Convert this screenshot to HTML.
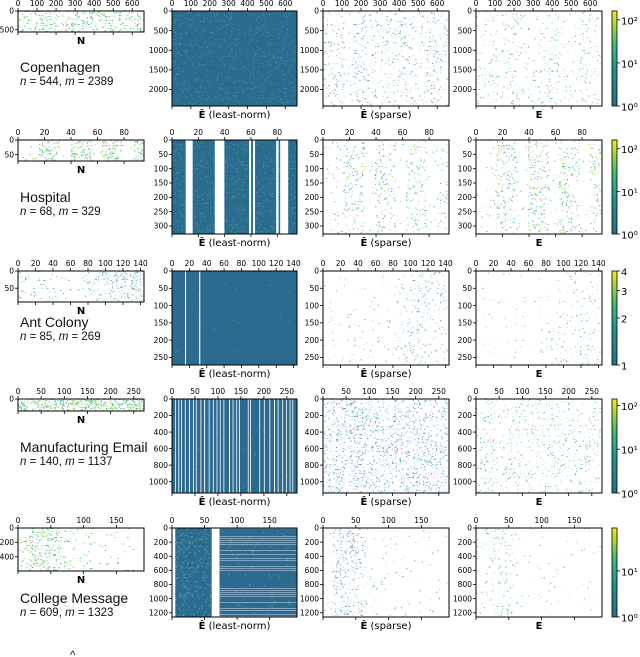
<!DOCTYPE html>
<html><head><meta charset="utf-8">
<style>
html,body{margin:0;padding:0;background:#fff;}
svg{display:block;}
.tk{font-family:"DejaVu Sans","Liberation Sans",sans-serif;font-size:7.5px;fill:#000;}
.ttl{font-family:"Liberation Sans",sans-serif;font-size:14px;fill:#111;}
.sub{font-family:"Liberation Sans",sans-serif;font-size:11.5px;fill:#111;}
.lab{font-family:"DejaVu Sans","Liberation Sans",sans-serif;font-size:10px;fill:#000;}
</style></head>
<body>
<svg id="fig" width="640" height="657" viewBox="0 0 640 657" xmlns="http://www.w3.org/2000/svg">
<defs>
<linearGradient id="cmap" x1="0" y1="1" x2="0" y2="0">
<stop offset="0" stop-color="#2c6a8f"/>
<stop offset="0.35" stop-color="#21918c"/>
<stop offset="0.65" stop-color="#3bbb75"/>
<stop offset="0.85" stop-color="#a0da39"/>
<stop offset="1" stop-color="#fde725"/>
</linearGradient>
</defs>
<text class="sub" x="70" y="659">^</text>
</svg>
<script>
// ---- data arrays (per row) ----
const datasets = ["Copenhagen","Hospital","Ant Colony","Manufacturing Email","College Message"];
const nVals = ["544","68","85","140","609"];
const mVals = ["2389","329","269","1137","1323"];
const xMax = [662, 95, 144, 272, 192];
const yMax = [2420, 328, 272, 1137, 1260];
const nYMax = [560, 72, 90, 140, 598];
const xTicks = [[0,100,200,300,400,500,600],[0,20,40,60,80],[0,20,40,60,80,100,120,140],[0,50,100,150,200,250],[0,50,100,150]];
const yTicks = [[0,500,1000,1500,2000],[0,50,100,150,200,250,300],[0,50,100,150,200,250],[0,200,400,600,800,1000],[0,200,400,600,800,1000,1200]];
const nYTicks = [[0,500],[0,50],[0,50],[0],[0,200,400]];
// column band densities (12 bands across x)
const nDens = [[.35,.3,.4,.35,.3,.45,.35,.3,.4,.35,.3,.3],[.1,.05,.5,.6,.05,.6,.5,.1,.6,.5,.05,.5],[.12,.1,.15,.1,.12,.08,.15,.25,.45,.5,.55,.5],[.8,.8,.8,.8,.8,.8,.8,.8,.8,.8,.8,.8],[.2,.5,.6,.5,.15,.1,.1,.08,.06,.05,.05,.04]];
const spDens = [[.2,.25,.15,.3,.2,.15,.25,.3,.2,.15,.3,.25],[.05,.08,.3,.25,.04,.3,.25,.04,.25,.2,.04,.2],[.06,.05,.06,.05,.06,.05,.07,.15,.2,.22,.22,.2],[.45,.5,.45,.5,.45,.5,.45,.5,.45,.5,.45,.45],[.1,.35,.4,.3,.06,.05,.06,.05,.04,.04,.04,.03]];
const eDens = [[.12,.15,.1,.18,.12,.1,.15,.2,.12,.1,.2,.15],[.06,.08,.35,.3,.04,.35,.3,.04,.3,.25,.04,.25],[.04,.03,.04,.03,.04,.03,.05,.08,.1,.12,.12,.1],[.2,.22,.2,.22,.2,.22,.2,.22,.2,.22,.2,.2],[.06,.2,.22,.15,.04,.03,.04,.03,.03,.03,.03,.02]];
const lnGaps = [[],[[10.4,15.7],[32.5,39.8],[58.6,60.1],[61.6,63.1],[79.2,81],[82.2,88.3]],[[15,16.2],[31.3,32.6]],
 [[7,8.5],[14,15],[20,21.5],[28,29],[37,39],[46,47],[52,53.5],[62,63],[70,72],[80,81],[89,90.5],[97,98],[104,105.5],[112,113],[124,126],[132,133],[140,141],[146,147.5],[165,166],[170,171],[190,191.5],[200,201],[212,213],[222,224],[230,231],[240,241],[248,249.5],[256,257],[262,263]],
 [[0,5],[61,73]]];
const lnSpeck = [.3,.35,.02,.03,.12];
const cbTicks = [[[1,"10\u2070"],[10,"10\u00b9"],[100,"10\u00b2"]],[[1,"10\u2070"],[10,"10\u00b9"],[100,"10\u00b2"]],[[1,"1"],[2,"2"],[3,"3"],[4,"4"]],[[1,"10\u2070"],[10,"10\u00b9"],[100,"10\u00b2"]],[[1,"10\u2070"],[10,"10\u00b9"]]];
const cbMax = [160,160,4,140,85];

// ---- layout ----
const rowTop=[11,140,271,399,528], rowBot=[106,234,365,493,617], nBot=[32,161,302,411,571];
const titleY=[72,202,327,452,603];
const NX=[18,144], P=[[172,297],[323,449],[476,602]];
const svg=document.getElementById('fig');
const NS="http://www.w3.org/2000/svg";
function mk(tag,attrs,parent){const e=document.createElementNS(NS,tag);for(const k in attrs)e.setAttribute(k,attrs[k]);(parent||svg).appendChild(e);return e;}
function hsh(a,b,c){let x=(a*374761393+b*668265263+c*2147483647)|0;x=(x^(x>>>13))*1274126177|0;x=x^(x>>>16);return ((x>>>0)%10000)/10000;}
const spCols=["#cfe2eb","#b7d4e2","#a3c8d9","#8fbccf","#5b9fba","#3f86a6"];
const greenCols=["#a3d9b0","#6cc58a","#3fb27a","#28ae80","#9fd93a","#5ec962"];

function panel(g,x0,x1,y0,y1,xm,ym,xt,yt,name){
  const sx=v=>x0+(x1-x0)*v/xm, sy=v=>y0+(y1-y0)*v/ym;
  xt.forEach(v=>{const X=sx(v);
    const t=mk('line',{x1:X,x2:X,y1:y0,y2:y0-3,stroke:'#000','stroke-width':0.8},g);
    
    mk('line',{x1:X,x2:X,y1:y1,y2:y1+3,stroke:'#000','stroke-width':0.8},g);
    const l=mk('text',{x:X,y:y0-5,'text-anchor':'middle',class:'tk'},g);l.textContent=v;
    });
  yt.forEach(v=>{const Y=sy(v);
    mk('line',{x1:x0,x2:x0-3,y1:Y,y2:Y,stroke:'#000','stroke-width':0.8},g);
    const l=mk('text',{x:x0-4,y:Y+2.7,'text-anchor':'end',class:'tk'},g);l.textContent=v;
    });
  return {sx,sy};
}
function frame(g,x0,x1,y0,y1){mk('rect',{x:x0,y:y0,width:x1-x0,height:y1-y0,fill:'none',stroke:'#000','stroke-width':1},g);}
function specks(g,x0,x1,y0,y1,dens,cols,seed,cw,ch,mult){
  const nx=Math.floor((x1-x0)/cw), ny=Math.floor((y1-y0)/ch);
  for(let i=0;i<nx;i++){const d=dens[Math.min(11,Math.floor(i/nx*12))];
    for(let j=0;j<ny;j++){const r=hsh(i,j,seed);
      if(r<d*mult){const c=cols[Math.floor(hsh(j,i,seed+7)*cols.length)];
        mk('rect',{x:x0+i*cw,y:y0+j*ch,width:cw*0.9,height:ch*0.7,fill:c},g);}}}
}

for(let r=0;r<5;r++){
  const row=mk('g',{});
  
  
  const t=mk('text',{x:20,y:titleY[r],class:'ttl'},row);t.textContent=datasets[r];
  
  const s=mk('text',{x:20,y:titleY[r]+13,class:'sub'},row);
  s.innerHTML='<tspan font-style="italic">n</tspan> = '+nVals[r]+', <tspan font-style="italic">m</tspan> = '+mVals[r];
  
  // N panel
  const gN=mk('g',{},row);
  specks(gN,NX[0],NX[1],rowTop[r],nBot[r],nDens[r],r==2?spCols.concat(greenCols.slice(0,3)):greenCols,r*11+1,1.4,1.3,0.5);
  panel(gN,NX[0],NX[1],rowTop[r],nBot[r],xMax[r],nYMax[r],xTicks[r],nYTicks[r],'n-matrix');
  frame(gN,NX[0],NX[1],rowTop[r],nBot[r]);
  const nl=mk('text',{x:(NX[0]+NX[1])/2,y:nBot[r]+12,'text-anchor':'middle',class:'lab','font-weight':'bold'},gN);nl.textContent='N';
  
  // least-norm
  const gL=mk('g',{},row);
  const [a0,a1]=P[0];
  const ax=panel(gL,a0,a1,rowTop[r],rowBot[r],xMax[r],yMax[r],xTicks[r],yTicks[r],'least-norm');
  mk('rect',{x:a0,y:rowTop[r],width:a1-a0,height:rowBot[r]-rowTop[r],fill:'#2d6a90'},gL);
  const ld=new Array(12).fill(lnSpeck[r]);
  if(r==4){for(let k=0;k<12;k++)ld[k]=k<4?.3:.05;}
  specks(gL,a0,a1,rowTop[r],rowBot[r],ld,r==4?["#3f8fae","#5aa6bf","#4bb08a"]:["#2f7f8e","#33908c","#3aa58a","#2b7a8e"],r*13+5,1.4,1.4,0.6);
  if(r==4){const xs=ax.sx(73);
    for(let j=0;j<45;j++){if(hsh(j,3,99)<0.55){mk('rect',{x:xs,y:rowTop[r]+j*2,width:a1-xs,height:0.8,fill:'#d6e6ef','fill-opacity':0.6},gL);}}}
  lnGaps[r].forEach(gp=>{const X0=ax.sx(gp[0]),X1=ax.sx(gp[1]);
    const gr=mk('rect',{x:X0,y:rowTop[r],width:Math.max(0.8,X1-X0),height:rowBot[r]-rowTop[r],fill:'#fff'},gL);
    });
  frame(gL,a0,a1,rowTop[r],rowBot[r]);
  const ll=mk('text',{x:(a0+a1)/2,y:rowBot[r]+12,'text-anchor':'middle',class:'lab'},gL);
  ll.innerHTML='<tspan font-weight="bold">\u00ca</tspan> (least-norm)';
  
  // sparse
  const gS=mk('g',{},row);
  const [b0,b1]=P[1];
  specks(gS,b0,b1,rowTop[r],rowBot[r],spDens[r],r==1?spCols.concat(greenCols):spCols,r*17+3,1.3,1.3,0.45);
  panel(gS,b0,b1,rowTop[r],rowBot[r],xMax[r],yMax[r],xTicks[r],yTicks[r],'sparse');
  frame(gS,b0,b1,rowTop[r],rowBot[r]);
  const sl=mk('text',{x:(b0+b1)/2,y:rowBot[r]+12,'text-anchor':'middle',class:'lab'},gS);
  sl.innerHTML='<tspan font-weight="bold">\u00ca</tspan> (sparse)';
  
  // E
  const gE=mk('g',{},row);
  const [c0,c1]=P[2];
  specks(gE,c0,c1,rowTop[r],rowBot[r],eDens[r],r==1?["#3fb27a","#28ae80","#9fd93a","#8fbccf","#b7e0c8"]:["#c3e2e4","#a9d3d8","#7fc0c6","#4aa3a8"],r*19+9,1.3,1.3,0.45);
  panel(gE,c0,c1,rowTop[r],rowBot[r],xMax[r],yMax[r],xTicks[r],yTicks[r],'true');
  frame(gE,c0,c1,rowTop[r],rowBot[r]);
  const el=mk('text',{x:(c0+c1)/2,y:rowBot[r]+12,'text-anchor':'middle',class:'lab','font-weight':'bold'},gE);el.textContent='E';
  
  // colorbar
  const gC=mk('g',{},row);
  mk('rect',{x:612,y:rowTop[r],width:5,height:rowBot[r]-rowTop[r],fill:'url(#cmap)',stroke:'#000','stroke-width':0.8},gC);
  const lm=Math.log10(cbMax[r]);
  cbTicks[r].forEach(tk=>{const Y=rowBot[r]-(rowBot[r]-rowTop[r])*Math.log10(tk[0])/lm;
    mk('line',{x1:617,x2:620,y1:Y,y2:Y,stroke:'#000','stroke-width':0.8},gC);
    const l=mk('text',{x:621,y:Y+4.5,class:'lab','font-size':'12'},gC);l.textContent=tk[1];
    });
}
</script>
</body></html>
